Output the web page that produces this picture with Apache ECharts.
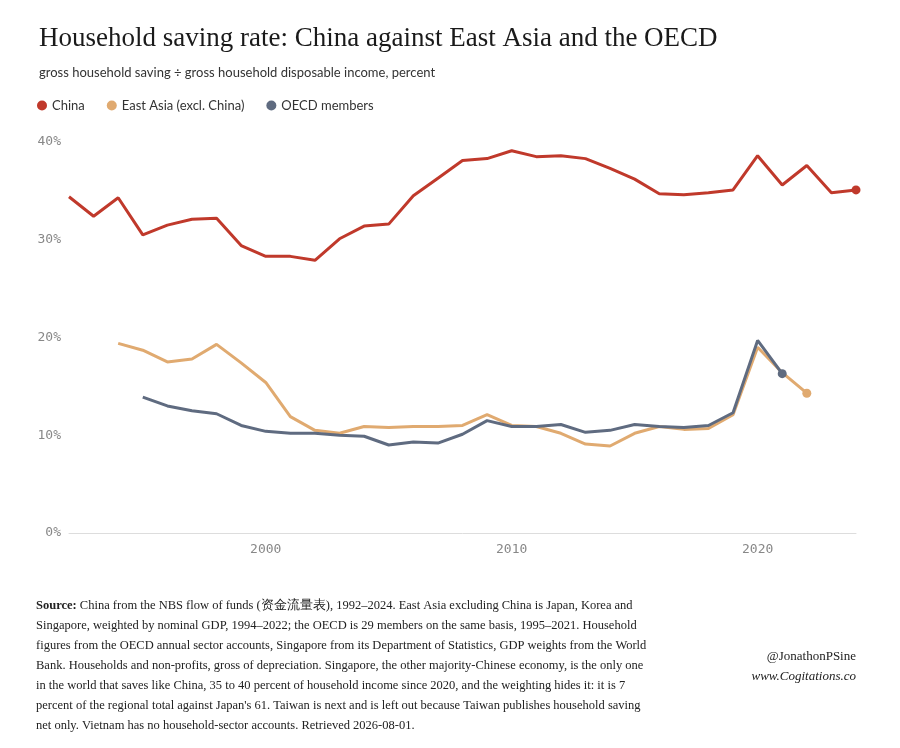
<!DOCTYPE html>
<html><head><meta charset="utf-8">
<script src="https://cdn.jsdelivr.net/npm/echarts@6/dist/echarts.min.js"></script>
<style>html,body{margin:0;background:#fff}#c{width:900px;height:748px}</style>
</head><body><div id="c"></div>
<script>
var china = [34.4,32.4,34.3,30.5,31.5,32.1,32.2,29.4,28.3,28.3,27.9,30.1,31.4,31.6,34.5,36.3,38.1,38.3,39.1,38.5,38.6,38.3,37.3,36.2,34.7,34.6,34.8,35.1,38.6,35.6,37.6,34.8,35.1];
var eastAsia = [19.4,18.7,17.5,17.8,19.3,17.4,15.4,11.9,10.5,10.2,10.9,10.8,10.9,10.9,11.0,12.1,11.0,10.9,10.2,9.1,8.9,10.2,10.9,10.6,10.7,12.1,19.0,16.4,14.3];
var oecd = [13.9,13.0,12.5,12.2,11.0,10.4,10.2,10.2,10.0,9.9,9.0,9.3,9.2,10.1,11.5,10.9,10.9,11.1,10.3,10.5,11.1,10.9,10.8,11.0,12.3,19.7,16.3];
var sourceLines = [
  '{b|Source:} China from the NBS flow of funds (资金流量表), 1992–2024. East Asia excluding China is Japan, Korea and',
  'Singapore, weighted by nominal GDP, 1994–2022; the OECD is 29 members on the same basis, 1995–2021. Household',
  'figures from the OECD annual sector accounts, Singapore from its Department of Statistics, GDP weights from the World',
  'Bank. Households and non-profits, gross of depreciation. Singapore, the other majority-Chinese economy, is the only one',
  'in the world that saves like China, 35 to 40 percent of household income since 2020, and the weighting hides it: it is 7',
  'percent of the regional total against Japan\'s 61. Taiwan is next and is left out because Taiwan publishes household saving',
  'net only. Vietnam has no household-sector accounts. Retrieved 2026-08-01.'
];

function pairs(start, vals) {
  return vals.map(function (v, i) {
    return { value: [start + i, v], symbolSize: i === vals.length - 1 ? 9 : 0 };
  });
}

var serif = '"Liberation Serif","DejaVu Serif",serif';
var sans = 'Lato,"Noto Sans",sans-serif';
var mono = '"DejaVu Sans Mono",monospace';

var chart = echarts.init(document.getElementById('c'));
function mk(name, start, vals, color) {
  return {
    name: name, type: 'line', data: pairs(start, vals), symbol: 'circle', showSymbol: true,
    lineStyle: { color: color, width: 3 }, itemStyle: { color: color }, z: name === 'China' ? 3 : 2
  };
}
chart.setOption({
  animation: false,
  title: {
    text: 'Household saving rate: China against East Asia and the OECD',
    subtext: 'gross household saving ÷ gross household disposable income, percent',
    left: 34, top: 20, itemGap: 14,
    textStyle: { fontFamily: serif, fontSize: 27, fontWeight: 'normal', color: '#1a1a1a' },
    subtextStyle: { fontFamily: sans, fontSize: 13, color: '#333' }
  },
  legend: {
    left: 32, top: 94, icon: 'circle', itemWidth: 10, itemHeight: 10, itemGap: 22,
    textStyle: { fontFamily: sans, fontSize: 13, color: '#333' },
    data: ['China', 'East Asia (excl. China)', 'OECD members']
  },
  grid: { left: 69, right: 44, top: 142, bottom: 215 },
  xAxis: {
    type: 'value', min: 1992, max: 2024, interval: 2,
    splitLine: { show: false }, axisTick: { show: false },
    axisLine: { lineStyle: { color: '#ddd' } },
    axisLabel: {
      fontFamily: mono, fontSize: 13, color: '#888', margin: 10, showMinLabel: false, showMaxLabel: false,
      formatter: function (v) { return v % 10 === 0 ? String(v) : ''; }
    }
  },
  yAxis: {
    type: 'value', min: 0, max: 40, interval: 10,
    axisLine: { show: false }, axisTick: { show: false },
    splitLine: { show: false },
    axisLabel: { fontFamily: mono, fontSize: 13, color: '#888', formatter: '{value}%', margin: 8 }
  },
  series: [
    mk('China', 1992, china, '#c0392b'),
    mk('East Asia (excl. China)', 1994, eastAsia, '#e0aa70'),
    mk('OECD members', 1995, oecd, '#5f6b80')
  ],
  graphic: [
    {
      type: 'text', left: 36, top: 596,
      style: {
        lineHeight: 20, fontFamily: serif, fontSize: 12.5, fill: '#222',
        text: sourceLines.join('\n'),
        rich: { b: { fontWeight: 'bold', fontFamily: serif, fontSize: 12.5 } }
      }
    },
    { type: 'text', right: 44, top: 650, style: { text: '@JonathonPSine', fontFamily: serif, fontSize: 13, fill: '#222', align: 'right' } },
    { type: 'text', right: 44, top: 670, style: { text: 'www.Cogitations.co', fontFamily: serif, fontSize: 13, fontStyle: 'italic', fill: '#222', align: 'right' } }
  ]
});
</script></body></html>
